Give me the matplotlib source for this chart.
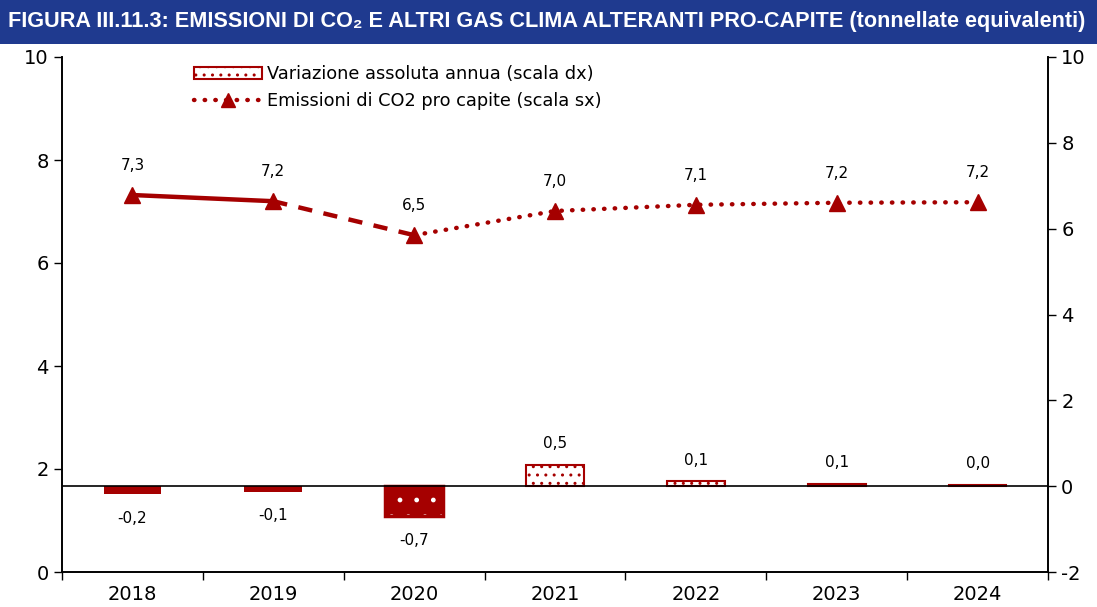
import matplotlib
matplotlib.use("Agg")
import matplotlib.pyplot as plt
from matplotlib.patches import Rectangle, Patch
from matplotlib.lines import Line2D

anni = ["2018", "2019", "2020", "2021", "2022", "2023", "2024"]
emissioni = [7.32, 7.20, 6.54, 7.01, 7.13, 7.17, 7.18]
variazione = [-0.19, -0.13, -0.70, 0.49, 0.11, 0.06, 0.02]

ROSSO = "#a50000"
BLU = "#1f3a8f"
TITOLO = "FIGURA III.11.3: EMISSIONI DI CO₂ E ALTRI GAS CLIMA ALTERANTI PRO-CAPITE (tonnellate equivalenti)"

plt.rcParams["font.family"] = ["DejaVu Sans"]
plt.rcParams["hatch.linewidth"] = 1.0
plt.rcParams["axes.unicode_minus"] = False

PUNTI = (0, (0.1, 2.3))
TRATTI = (0, (3.2, 2.6))


def main():
    fig = plt.figure(figsize=(10.97, 6.07), dpi=100)

    # barra del titolo
    fig.patches.append(Rectangle((0, 1 - 44 / 607), 1, 44 / 607, transform=fig.transFigure,
                                 facecolor=BLU, edgecolor="none", zorder=0))
    t = fig.text(8 / 1097, 1 - 22 / 607, TITOLO, color="white", fontsize=15,
                 fontweight="bold", va="center", ha="left",
                 family=["Liberation Sans", "DejaVu Sans"])
    r = fig.canvas.get_renderer()
    larg = t.get_window_extent(renderer=r).width
    t.set_fontsize(15 * 1077 / larg)

    ax = fig.add_axes([62 / 1097, 35 / 607, (1048 - 62) / 1097, (572 - 57) / 607])
    ax2 = ax.twinx()
    x = list(range(len(anni)))

    # barre sulla scala di destra
    w = 0.41
    for i, v in enumerate(variazione):
        if v < 0:
            ax2.bar(i, v, width=w, color=ROSSO, edgecolor="none", zorder=2)
            if v < -0.3:
                ax2.bar(i, v, width=w, facecolor="none", edgecolor="white", hatch=".",
                        linewidth=0, zorder=3)
                ax2.bar(i, v, width=w, facecolor="none", edgecolor=ROSSO, linewidth=2.5,
                        zorder=3)
        else:
            ax2.bar(i, v, width=w, facecolor="white", edgecolor=ROSSO, hatch="..",
                    linewidth=0, zorder=2)
            ax2.bar(i, v, width=w, facecolor="none", edgecolor=ROSSO, linewidth=1.5, zorder=3)
        etichetta = ("%.1f" % v).replace(".", ",")
        if v < 0:
            ax2.annotate(etichetta, (i, v), xytext=(0, -12), textcoords="offset points",
                         ha="center", va="top", fontsize=11)
        else:
            ax2.annotate(etichetta, (i, v), xytext=(0, 10), textcoords="offset points",
                         ha="center", va="bottom", fontsize=11)
    ax2.axhline(0, color="black", linewidth=1.2, zorder=4)

    # linea emissioni sulla scala di sinistra
    stile = dict(color=ROSSO, linewidth=3.2)
    ax.plot(x[0:2], emissioni[0:2], linestyle="-", **stile)
    ax.plot(x[1:3], emissioni[1:3], linestyle=TRATTI, **stile)
    ax.plot(x[2:], emissioni[2:], linestyle=PUNTI, dash_capstyle="round", **stile)
    ax.plot(x, emissioni, linestyle="none", marker="^", markersize=11, color=ROSSO, zorder=5)
    for i, v in enumerate(emissioni):
        ax.annotate(("%.1f" % v).replace(".", ","), (i, v), xytext=(0, 16),
                    textcoords="offset points", ha="center", va="bottom", fontsize=11)

    ax.set_zorder(ax2.get_zorder() + 1)
    ax.patch.set_visible(False)

    ax.set_xlim(-0.5, 6.5)
    ax.set_ylim(0, 10)
    ax2.set_ylim(-2, 10)
    ax.set_yticks([0, 2, 4, 6, 8, 10])
    ax2.set_yticks([-2, 0, 2, 4, 6, 8, 10])
    ax.set_xticks(x)
    ax.set_xticklabels(anni)
    ax.set_xticks([i - 0.5 for i in range(len(anni) + 1)], minor=True)
    ax.tick_params(axis="x", which="major", length=0, labelsize=14, pad=9)
    ax.tick_params(axis="x", which="minor", length=6, width=1)
    ax.tick_params(axis="y", labelsize=14, length=6, width=1)
    ax2.tick_params(axis="y", labelsize=14, length=6, width=1)
    for a in (ax, ax2):
        a.spines["top"].set_visible(False)
        for s in a.spines.values():
            s.set_linewidth(1.2)

    # legenda
    h_bar = Patch(facecolor="white", edgecolor=ROSSO, hatch="..", linewidth=1.5)
    h_line = Line2D([], [], color=ROSSO, linewidth=3.2, linestyle=PUNTI,
                    dash_capstyle="round", marker="^", markersize=10)
    ax.legend([h_bar, h_line],
              ["Variazione assoluta annua (scala dx)", "Emissioni di CO2 pro capite (scala sx)"],
              loc="upper left", bbox_to_anchor=(0.118, 1.015), frameon=False, fontsize=12.8,
              handlelength=3.8, handleheight=0.7, handletextpad=0.3, labelspacing=0.5)

    fig.savefig("out.png", dpi=100)


if __name__ == "__main__":
    main()
